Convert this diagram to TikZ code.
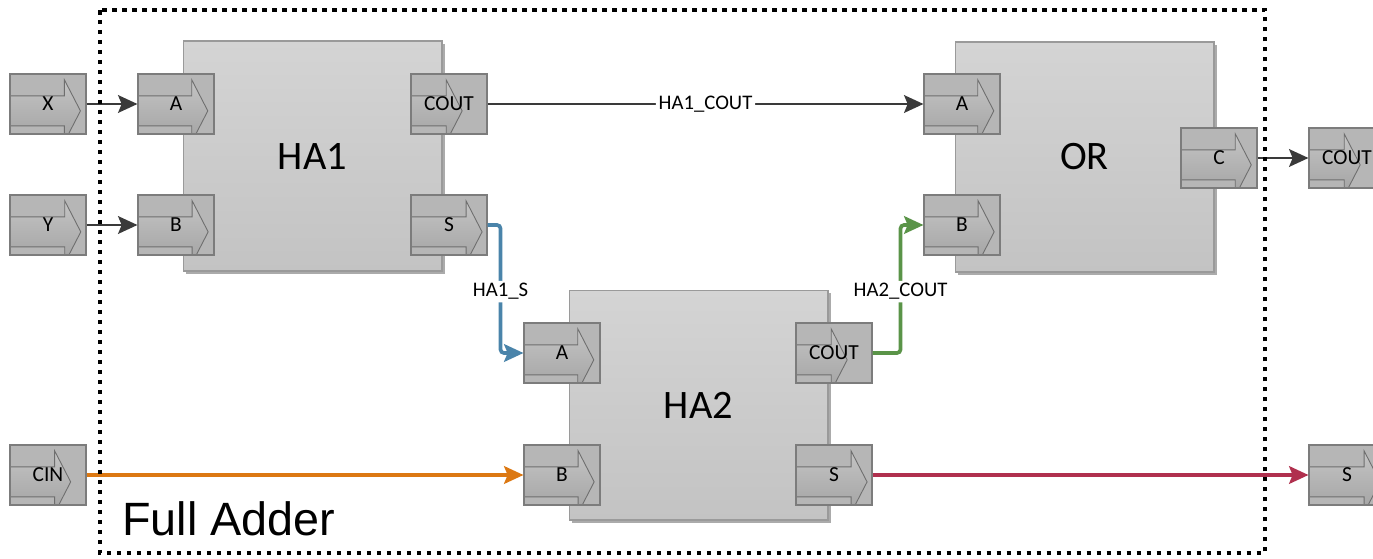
\documentclass[tikz,border=0pt]{standalone}
\usepackage{fontspec}
\setmainfont{Carlito}
\newfontfamily\arialf{Liberation Sans}
\usetikzlibrary{arrows.meta,shadows}
\definecolor{portfill}{HTML}{B6B6B6}
\definecolor{portline}{HTML}{7C7C7C}
\definecolor{arrowtop}{HTML}{C4C4C4}
\definecolor{arrowbot}{HTML}{A2A2A2}
\definecolor{arrowline}{HTML}{6E6E6E}
\definecolor{blocktop}{HTML}{D4D4D4}
\definecolor{blockbot}{HTML}{C3C3C3}
\definecolor{blockline}{HTML}{9A9A9A}
\definecolor{shadowc}{HTML}{ABABAB}
\definecolor{wiredark}{HTML}{3A3A3A}
\definecolor{wireblue}{HTML}{4A84AA}
\definecolor{wiregreen}{HTML}{5A9448}
\definecolor{wireorange}{HTML}{DC7812}
\definecolor{wirered}{HTML}{B0304E}
\begin{document}
\begin{tikzpicture}[x=0.02cm,y=-0.02cm,
  port/.style={draw=portline, fill=portfill, line width=0.6pt,
    minimum width=1.52cm, minimum height=1.2cm, inner sep=0pt,
    font=\fontsize{12.2}{14}\selectfont,
    path picture={\begin{scope}[shift={(path picture bounding box.center)}]
      \shadedraw[top color=arrowtop, bottom color=arrowbot, draw=arrowline, line width=0.5pt]
        (-40,-15) -- (22,-15) -- (22,-31) -- (38,0) -- (22,31) -- (22,15) -- (-40,15) -- cycle;
      \end{scope}}},
  block/.style={draw=blockline, top color=blocktop, bottom color=blockbot, line width=0.6pt,
    minimum width=5.18cm, minimum height=4.6cm, inner sep=0pt,
    general shadow={fill=shadowc, shadow xshift=0.06cm, shadow yshift=-0.06cm},
    font=\fontsize{23}{27}\selectfont},
  wire/.style={draw=wiredark, line width=1.7pt, rounded corners=2pt,
    -{Stealth[length=11pt, width=10pt, inset=2pt]}},
  cwire/.style={wire, draw=#1, line width=2.1pt},
  lbl/.style={fill=white, inner sep=1.5pt, font=\fontsize{11.8}{13}\selectfont, text=black}
]
\clip (0,0) rectangle (1373,558);
\node[block] (ha1) at (312.5,156) {HA1};
\node[block] (ha2) at (698.5,405) {HA2};
\node[block] (or) at (1084.5,157) {OR};

\node[port] (x) at (48,104) {X};
\node[port] (y) at (48,225) {Y};
\node[port] (cin) at (48,475) {CIN};
\node[port] (ha1a) at (176,104) {A};
\node[port] (ha1b) at (176,225) {B};
\node[port] (ha1c) at (449,104) {COUT};
\node[port] (ha1s) at (449,225) {S};
\node[port] (ha2a) at (562,353) {A};
\node[port] (ha2b) at (562,475) {B};
\node[port] (ha2c) at (834,353) {COUT};
\node[port] (ha2s) at (834,475) {S};
\node[port] (ora) at (962,104) {A};
\node[port] (orb) at (962,225) {B};
\node[port] (orc) at (1219,158) {C};
\node[port] (cout) at (1347,158) {COUT};
\node[port] (s) at (1347,475) {S};

\draw[wire] (x.east) -- (ha1a.west);
\draw[wire] (y.east) -- (ha1b.west);
\draw[wire] (ha1c.east) -- node[lbl]{HA1\_COUT} (ora.west);
\draw[cwire=wireblue] (ha1s.east) -- ++(13,0) |- node[lbl,pos=0.26]{HA1\_S} (ha2a.west);
\draw[cwire=wiregreen] (ha2c.east) -- ++(28,0) |- node[lbl,pos=0.24]{HA2\_COUT} (orb.west);
\draw[cwire=wireorange] (cin.east) -- (ha2b.west);
\draw[cwire=wirered] (ha2s.east) -- (s.west);
\draw[wire] (orc.east) -- (cout.west);

\draw[black, line width=0.09cm, dash pattern=on 0.09cm off 0.11cm] (100,10) rectangle (1265,553);
\node[anchor=base west, inner sep=0pt, font=\arialf\fontsize{26.6}{30}\selectfont] (title) at (122,535) {Full Adder};
\end{tikzpicture}
\end{document}
